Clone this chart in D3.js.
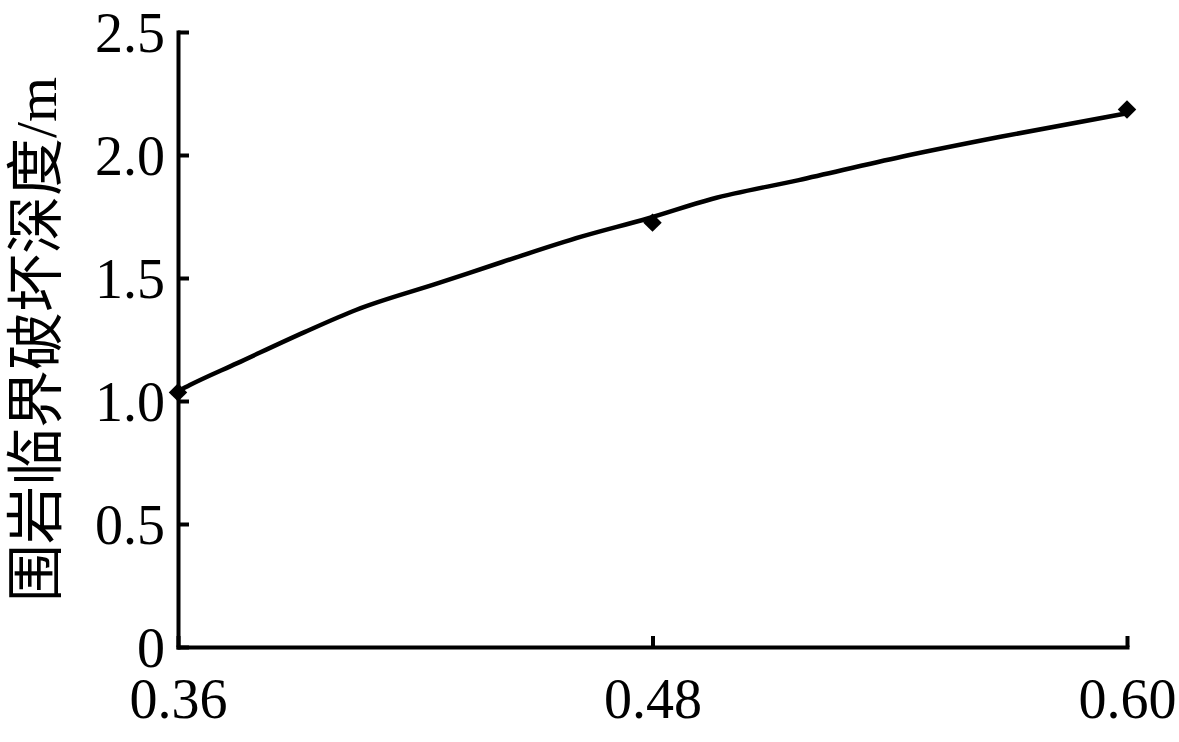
<!DOCTYPE html>
<html>
<head>
<meta charset="utf-8">
<script src="https://cdn.jsdelivr.net/npm/d3@7"></script>
<style>
  body { margin: 0; background: #fff; }
  svg { display: block; }
</style>
</head>
<body>
<svg id="chart" width="1179" height="742"></svg>
<script>
"use strict";
// measured points
const depthX = [0.36, 0.48, 0.60];
const depthY = [1.035, 1.725, 2.185];
// fitted curve
const fitX = [0.36, 0.363, 0.375, 0.392, 0.405, 0.426, 0.442, 0.462, 0.479, 0.495, 0.517, 0.543, 0.568, 0.60];
const fitY = [1.04, 1.065, 1.154, 1.28, 1.37, 1.48, 1.565, 1.668, 1.743, 1.821, 1.898, 1.993, 2.074, 2.17];
const xTicks = [0.36, 0.48, 0.60];
const yTicks = [0, 0.5, 1.0, 1.5, 2.0, 2.5];
const yTitle = "围岩临界破坏深度/m";

const svg = d3.select("#chart");
const margin = {top: 32, right: 52, bottom: 95, left: 178};
const width = +svg.attr("width") - margin.left - margin.right;
const height = +svg.attr("height") - margin.top - margin.bottom;
const font = "'Liberation Serif', 'Times New Roman', serif";

const x = d3.scaleLinear().domain([0.36, 0.60]).range([0, width]);
const y = d3.scaleLinear().domain([0, 2.5]).range([height, 0]);

const g = svg.append("g").attr("transform", `translate(${margin.left},${margin.top})`);

// y axis, ticks pointing inward
const yAxis = g.append("g")
  .call(d3.axisLeft(y).tickValues(yTicks).tickSizeInner(-11).tickSizeOuter(0).tickPadding(13)
    .tickFormat(d => d === 0 ? "0" : d3.format(".1f")(d)));

// x axis, ticks pointing up
const xAxis = g.append("g").attr("transform", `translate(0,${height})`)
  .call(d3.axisBottom(x).tickValues(xTicks).tickSizeInner(-11).tickSizeOuter(0).tickPadding(31)
    .tickFormat(d3.format(".2f")));

[xAxis, yAxis].forEach(a => {
  a.attr("font-family", font).attr("font-size", 56);
  a.select(".domain").attr("stroke", "#000").attr("stroke-width", 4).attr("stroke-linecap", "square");
  a.selectAll(".tick line").attr("stroke", "#000").attr("stroke-width", 4);
  a.selectAll(".tick text").attr("fill", "#000");
});
yAxis.selectAll(".tick text").attr("dy", "0.34em");
xAxis.selectAll(".tick text").attr("dy", "0.72em");

// fitted curve
const line = d3.line().x(d => x(d[0])).y(d => y(d[1])).curve(d3.curveMonotoneX);
g.append("path")
  .datum(d3.zip(fitX, fitY))
  .attr("fill", "none").attr("stroke", "#000").attr("stroke-width", 4.5)
  .attr("d", line);

// markers
const diamond = d3.symbol().type(d3.symbolSquare).size(170);
g.selectAll("path.pt")
  .data(d3.zip(depthX, depthY))
  .join("path")
  .attr("class", "pt")
  .attr("d", diamond)
  .attr("fill", "#000")
  .attr("transform", d => `translate(${x(d[0])},${y(d[1])}) rotate(45)`);

// y title
svg.append("text")
  .attr("transform", `translate(56,${margin.top + height / 2}) rotate(-90)`)
  .attr("text-anchor", "middle")
  .attr("font-family", "'Liberation Serif', 'Noto Sans CJK SC', serif")
  .attr("font-size", 58)
  .attr("fill", "#000")
  .text(yTitle);
</script>
</body>
</html>
